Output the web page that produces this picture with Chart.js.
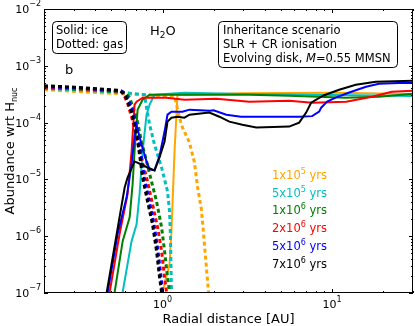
<!DOCTYPE html>
<html>
<head>
<meta charset="utf-8">
<script src="https://cdn.jsdelivr.net/npm/chart.js@4/dist/chart.umd.min.js"></script>
<style>
  html, body { margin: 0; padding: 0; background: #fff; }
  #wrap { width: 415px; height: 326px; }
</style>
</head>
<body>
<div id="wrap"><canvas id="chart" width="415" height="326"></canvas></div>
<script>
// [radial distance (AU), abundance wrt H_nuc]
const ice1e5 = [[0.995,6e-8],[1.0,1.04e-7],[1.1,3.23e-7],[1.129,1.22e-6],[1.177,3.1e-5],[1.225,3.1e-4],[1.4,3.1e-4],[3,3.3e-4],[10,3.36e-4],[30,3.2e-4]];
const gas1e5 = [[0.2,3.8e-4],[0.43,3.36e-4],[0.6,3.2e-4],[1.0,2.98e-4],[1.18,2.9e-4],[1.259,1.22e-4],[1.311,8.2e-5],[1.442,4.46e-5],[1.542,2.0e-5],[1.607,7.5e-6],[1.695,3.0e-6],[1.742,1.18e-6],[1.79,4.46e-7],[1.84,1.76e-7],[1.866,1.04e-7],[1.88,6e-8]];

const ice5e5 = [[0.575,6e-8],[0.582,1.04e-7],[0.657,8.2e-7],[0.703,1.62e-6],[0.732,5.46e-6],[0.763,3.1e-5],[0.805,1.38e-4],[0.839,2.07e-4],[0.897,3.1e-4],[1.347,3.36e-4],[3,3.2e-4],[10,3.05e-4],[30,2.95e-4]];
const gas5e5 = [[0.2,4.0e-4],[0.3,3.8e-4],[0.45,3.55e-4],[0.6,3.35e-4],[0.784,3.1e-4],[0.805,1.83e-4],[0.839,9.2e-5],[0.897,4.1e-5],[0.987,1.62e-5],[1.07,6.2e-6],[1.1,2.75e-6],[1.114,9.6e-7],[1.129,1.04e-7],[1.135,6e-8]];

const ice1e6 = [[0.51,6e-8],[0.522,1.04e-7],[0.582,8.17e-7],[0.64,2.15e-6],[0.666,8.17e-6],[0.684,3.1e-5],[0.713,1.69e-4],[0.763,2.53e-4],[0.839,3.1e-4],[1.347,3.1e-4],[3.25,3.1e-4],[5.6,2.98e-4],[12.1,2.75e-4],[18.9,2.86e-4],[30,3.23e-4]];
const gas1e6 = [[0.2,4.1e-4],[0.3,3.9e-4],[0.45,3.65e-4],[0.6,3.4e-4],[0.64,2.75e-4],[0.703,1.22e-4],[0.752,4.64e-5],[0.805,2.07e-5],[0.861,9.2e-6],[0.922,4.1e-6],[0.987,1.44e-6],[1.028,5.5e-7],[1.07,1.9e-7],[1.1,1.04e-7],[1.11,6e-8]];

const ice2e6 = [[0.48,6e-8],[0.488,1.04e-7],[0.558,1.08e-6],[0.622,5.46e-6],[0.657,3.1e-5],[0.684,2.07e-4],[0.703,2.34e-4],[0.763,2.75e-4],[1.056,2.75e-4],[1.347,2.53e-4],[2.08,2.64e-4],[3.25,2.34e-4],[5.585,2.43e-4],[7.63,2.24e-4],[12.1,2.34e-4],[17.2,2.86e-4],[22.5,3.5e-4],[30,3.64e-4]];
const gas2e6 = [[0.2,4.2e-4],[0.3,4.0e-4],[0.45,3.75e-4],[0.58,3.55e-4],[0.622,2.2e-4],[0.66,1.2e-4],[0.71,5e-5],[0.763,2.0e-5],[0.816,9.2e-6],[0.873,3.64e-6],[0.935,1.44e-6],[0.987,5.5e-7],[1.028,1.9e-7],[1.056,1.04e-7],[1.07,6e-8]];

const ice5e6 = [[0.47,6e-8],[0.475,1.04e-7],[0.543,1.08e-6],[0.614,4.83e-6],[0.657,1.83e-5],[0.684,5.7e-5],[0.703,9e-5],[0.752,4.1e-5],[0.805,2.07e-5],[0.839,1.5e-5],[0.897,1.44e-5],[0.96,2.6e-5],[1.028,6.95e-5],[1.07,1.38e-4],[1.129,1.56e-4],[1.311,1.56e-4],[1.442,1.69e-4],[1.9,1.62e-4],[2.0,1.65e-4],[2.38,1.38e-4],[2.9,1.27e-4],[6.39,1.27e-4],[7.63,1.3e-4],[8.39,1.56e-4],[8.62,1.83e-4],[9.35,2.34e-4],[10.5,2.75e-4],[12.5,3.36e-4],[15.85,4.28e-4],[18.9,4.83e-4],[24.8,5.0e-4],[30,5.0e-4]];
const gas5e6 = [[0.2,4.3e-4],[0.3,4.1e-4],[0.45,3.8e-4],[0.57,3.6e-4],[0.61,3.1e-4],[0.67,1.56e-4],[0.717,6.2e-5],[0.747,2.75e-5],[0.78,1.08e-5],[0.835,4.1e-6],[0.89,1.62e-6],[0.94,5.5e-7],[0.98,1.9e-7],[1.0,1.04e-7],[1.015,6e-8]];

const ice7e6 = [[0.46,6e-8],[0.469,1.04e-7],[0.536,1.08e-6],[0.598,7.2e-6],[0.622,1.08e-5],[0.684,2.07e-5],[0.752,1.83e-5],[0.816,1.62e-5],[0.897,1.44e-5],[0.96,2.43e-5],[1.028,4.64e-5],[1.07,1.04e-4],[1.129,1.22e-4],[1.225,1.27e-4],[1.347,1.22e-4],[1.442,1.38e-4],[1.888,1.5e-4],[2.164,1.27e-4],[2.478,1.04e-4],[2.955,9.2e-5],[3.573,8.2e-5],[5.585,8.5e-5],[6.394,1.0e-4],[7.03,1.5e-4],[7.52,2.24e-4],[8.9,3.0e-4],[11,3.79e-4],[13.8,4.64e-4],[18.1,5.24e-4],[30,5.46e-4]];
const gas7e6 = [[0.2,4.46e-4],[0.3,4.2e-4],[0.45,3.85e-4],[0.56,3.7e-4],[0.598,3.1e-4],[0.657,1.56e-4],[0.703,6.2e-5],[0.732,2.75e-5],[0.763,1.08e-5],[0.816,4.1e-6],[0.873,1.62e-6],[0.922,5.5e-7],[0.96,1.9e-7],[0.987,1.04e-7],[1.0,6e-8]];

const timeMant = [1, 5, 1, 2, 5, 7];
const timeExp = [5, 5, 6, 6, 6, 6];
const colors = ['#FFA500', '#00BFBF', '#008000', '#FF0000', '#0000FF', '#000000'];
const iceSeries = [ice1e5, ice5e5, ice1e6, ice2e6, ice5e6, ice7e6];
const gasSeries = [gas1e5, gas5e5, gas1e6, gas2e6, gas5e6, gas7e6];

const xTickExps = [0, 1];
const yTickExps = [-7, -6, -5, -4, -3, -2];

const FONT = '"DejaVu Sans", sans-serif';

const datasets = [];
colors.forEach((c, i) => {
  datasets.push({
    data: iceSeries[i].map(p => ({ x: p[0], y: p[1] })),
    borderColor: c, borderWidth: 2, pointRadius: 0, showLine: true,
    tension: 0, clip: 0, order: (5 - i) * 2 + 1
  });
  datasets.push({
    data: gasSeries[i].map(p => ({ x: p[0], y: p[1] })),
    borderColor: c, borderWidth: 3, borderDash: [4, 3], pointRadius: 0, showLine: true,
    tension: 0, clip: 0, order: (5 - i) * 2
  });
});

function pow10(ctx, exp, x, y, size, expSize, rise, align, color) {
  const b = '10', e = String(exp).replace('-', '\u2212');
  ctx.font = size + 'px ' + FONT;
  const wb = ctx.measureText(b).width;
  ctx.font = expSize + 'px ' + FONT;
  const we = ctx.measureText(e).width;
  let x0 = x;
  if (align === 'right') x0 = x - wb - we;
  else if (align === 'center') x0 = x - (wb + we) / 2;
  ctx.fillStyle = color || '#000';
  ctx.textAlign = 'left';
  ctx.textBaseline = 'alphabetic';
  ctx.font = size + 'px ' + FONT;
  ctx.fillText(b, x0, y);
  ctx.font = expSize + 'px ' + FONT;
  ctx.fillText(e, x0 + wb, y - rise);
  return x0 + wb + we;
}

function roundBox(ctx, x, y, w, h, r) {
  ctx.beginPath();
  ctx.moveTo(x + r, y);
  ctx.arcTo(x + w, y, x + w, y + h, r);
  ctx.arcTo(x + w, y + h, x, y + h, r);
  ctx.arcTo(x, y + h, x, y, r);
  ctx.arcTo(x, y, x + w, y, r);
  ctx.closePath();
  ctx.fillStyle = '#fff';
  ctx.fill();
  ctx.strokeStyle = '#000';
  ctx.lineWidth = 1;
  ctx.stroke();
}

const decor = {
  id: 'decor',
  afterDraw(chart) {
    const ctx = chart.ctx;
    const a = chart.chartArea;
    const xs = chart.scales.x, ys = chart.scales.y;
    ctx.save();

    // frame
    ctx.strokeStyle = '#000';
    ctx.lineWidth = 1;
    ctx.strokeRect(Math.round(a.left) + 0.5, Math.round(a.top) + 0.5,
      Math.round(a.right - a.left) - 1, Math.round(a.bottom - a.top) - 1);

    // ticks, inward on all sides
    ctx.beginPath();
    const xt = (v, len) => {
      const px = Math.round(xs.getPixelForValue(v)) + 0.5;
      ctx.moveTo(px, a.bottom); ctx.lineTo(px, a.bottom - len);
      ctx.moveTo(px, a.top); ctx.lineTo(px, a.top + len);
    };
    const yt = (v, len) => {
      const py = Math.round(ys.getPixelForValue(v)) + 0.5;
      ctx.moveTo(a.left, py); ctx.lineTo(a.left + len, py);
      ctx.moveTo(a.right, py); ctx.lineTo(a.right - len, py);
    };
    [-1, 0, 1].forEach(d => {
      for (let k = 1; k <= 9; k++) {
        const v = k * Math.pow(10, d);
        if (v < 0.2 || v > 30) continue;
        xt(v, k === 1 ? 4 : 2);
      }
    });
    for (let d = -7; d <= -2; d++) {
      for (let k = 1; k <= 9; k++) {
        const v = k * Math.pow(10, d);
        if (v > 1e-2) continue;
        yt(v, k === 1 ? 4 : 2);
      }
    }
    ctx.stroke();

    // tick labels
    xTickExps.forEach(e => {
      pow10(ctx, e, xs.getPixelForValue(Math.pow(10, e)), a.bottom + 15, 11, 8, 6, 'center');
    });
    yTickExps.forEach(e => {
      pow10(ctx, e, a.left - 3, ys.getPixelForValue(Math.pow(10, e)) + 4, 11, 8, 7, 'right');
    });

    // axis titles
    ctx.fillStyle = '#000';
    ctx.font = '13px ' + FONT;
    ctx.textAlign = 'center';
    ctx.textBaseline = 'alphabetic';
    ctx.fillText('Radial distance [AU]', (a.left + a.right) / 2, 323);

    ctx.save();
    ctx.translate(14, (a.top + a.bottom) / 2);
    ctx.rotate(-Math.PI / 2);
    const main = 'Abundance wrt H', sub = 'nuc';
    ctx.font = '13px ' + FONT;
    const wm = ctx.measureText(main).width;
    ctx.font = '8px ' + FONT;
    const ws = ctx.measureText(sub).width;
    const sx = -(wm + ws) / 2;
    ctx.textAlign = 'left';
    ctx.font = '13px ' + FONT;
    ctx.fillText(main, sx, 0);
    ctx.font = '8px ' + FONT;
    ctx.fillText(sub, sx + wm, 3);
    ctx.restore();

    // annotation boxes
    roundBox(ctx, 52.5, 21.5, 74, 32, 4);
    roundBox(ctx, 218.5, 21.5, 179, 46, 4);
    ctx.fillStyle = '#000';
    ctx.textAlign = 'left';
    ctx.font = '11.5px ' + FONT;
    ctx.fillText('Solid: ice', 56, 34);
    ctx.fillText('Dotted: gas', 56, 48);
    ctx.fillText('Inheritance scenario', 223, 34);
    ctx.fillText('SLR + CR ionisation', 223, 48);
    let tx = 223;
    ctx.fillText('Evolving disk, ', tx, 62);
    tx += ctx.measureText('Evolving disk, ').width;
    ctx.font = 'italic 11.5px ' + FONT;
    ctx.fillText('M', tx, 62);
    tx += ctx.measureText('M').width;
    ctx.font = '11.5px ' + FONT;
    ctx.fillText('=0.55 MMSN', tx, 62);

    // H2O and panel letter
    ctx.font = '13px ' + FONT;
    let hx = 150;
    ctx.fillText('H', hx, 35);
    hx += ctx.measureText('H').width;
    ctx.font = '9px ' + FONT;
    ctx.fillText('2', hx, 38);
    hx += ctx.measureText('2').width;
    ctx.font = '13px ' + FONT;
    ctx.fillText('O', hx, 35);
    ctx.fillText('b', 65, 74);

    // time labels
    colors.forEach((c, i) => {
      const by = 179 + i * 17.7;
      ctx.font = '11.5px ' + FONT;
      ctx.fillStyle = c;
      const lead = timeMant[i] + 'x';
      ctx.fillText(lead, 272, by);
      const lx = 272 + ctx.measureText(lead).width;
      const ex = pow10(ctx, timeExp[i], lx, by, 11.5, 8, 5, 'left', c);
      ctx.font = '11.5px ' + FONT;
      ctx.fillStyle = c;
      ctx.fillText(' yrs', ex, by);
    });

    ctx.restore();
  }
};

new Chart(document.getElementById('chart'), {
  type: 'scatter',
  data: { datasets },
  options: {
    responsive: false,
    devicePixelRatio: 1,
    animation: false,
    layout: { padding: { top: 9, right: 2, left: 0, bottom: 0 } },
    plugins: { legend: { display: false }, tooltip: { enabled: false } },
    scales: {
      x: {
        type: 'logarithmic', min: 0.2, max: 30,
        ticks: { display: false }, grid: { display: false }, border: { display: false },
        afterFit(s) { s.height = 33; }
      },
      y: {
        type: 'logarithmic', min: 1e-7, max: 1e-2,
        ticks: { display: false }, grid: { display: false }, border: { display: false },
        afterFit(s) { s.width = 44; }
      }
    }
  },
  plugins: [decor]
});
</script>
</body>
</html>
